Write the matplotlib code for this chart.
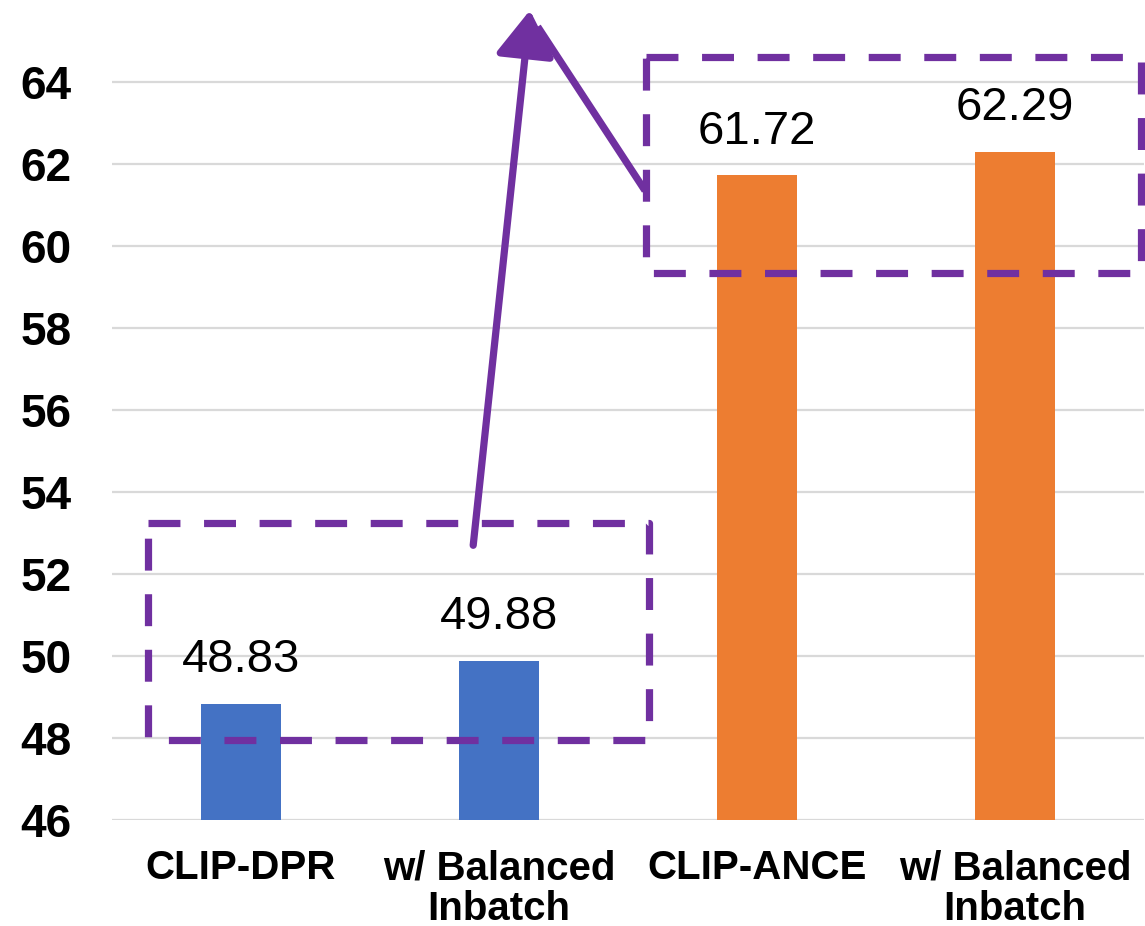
import matplotlib
matplotlib.use("Agg")
import matplotlib.pyplot as plt
from matplotlib.patches import FancyArrowPatch

# Recall scores for the four retrievers
methods = ["CLIP-DPR", "w/ Balanced\nInbatch", "CLIP-ANCE", "w/ Balanced\nInbatch"]
scores = [48.83, 49.88, 61.72, 62.29]
bar_colors = ["#4472C4", "#4472C4", "#ED7D31", "#ED7D31"]
y_ticks = [46, 48, 50, 52, 54, 56, 58, 60, 62, 64]

purple = "#7030A0"
plt.rcParams["lines.scale_dashes"] = False

fig = plt.figure(figsize=(11.45, 9.26), dpi=100)
ax = fig.add_axes([112 / 1145, 1 - 820 / 926, 1032 / 1145, 820 / 926])

x = range(len(methods))
bars = ax.bar(x, scores, width=0.31, color=bar_colors, zorder=2)

ax.set_xlim(-0.5, 3.5)
ax.set_ylim(46, 66)
ax.set_yticks(y_ticks)
ax.grid(axis="y", color="#d9d9d9", linewidth=1.6, zorder=0)
ax.set_axisbelow(True)
for s in ax.spines.values():
    s.set_visible(False)
ax.tick_params(length=0)
ax.tick_params(axis="y", pad=29)
ax.tick_params(axis="x", pad=21)

ax.set_yticklabels([str(t) for t in y_ticks], fontsize=33, fontweight="bold",
                   family=["Liberation Sans", "DejaVu Sans"])
ax.set_xticks(list(x))
ax.set_xticklabels(methods, fontsize=29, fontweight="bold", linespacing=1.08,
                   family=["Liberation Sans", "DejaVu Sans"])

# value labels above each bar
for b, val in zip(bars, scores):
    ax.annotate(f"{val:.2f}", (b.get_x() + b.get_width() / 2, val),
                xytext=(0, 23), textcoords="offset points",
                ha="center", va="baseline", fontsize=34,
                family=["Liberation Sans", "DejaVu Sans"])

# dashed boxes around each pair
def dashed_box(x0, x1, y0, y1):
    ax.plot([x0, x1, x1, x0, x0], [y1, y1, y0, y0, y1], color=purple,
            linewidth=5.2, dashes=(23, 17), solid_capstyle="butt",
            clip_on=False, zorder=3)

dashed_box(-0.36, 1.58, 47.95, 53.25)
dashed_box(1.57, 3.49, 59.35, 64.6)

# bent arrow linking the two boxes
ax.add_patch(FancyArrowPatch((0.90, 52.7), (1.12, 65.75),
                             arrowstyle="-|>,head_length=1.4,head_width=0.9",
                             mutation_scale=20, color=purple, linewidth=5.2,
                             shrinkA=0, shrinkB=0, clip_on=False, zorder=4))
ax.plot([1.15, 1.566], [65.35, 61.35], color=purple, linewidth=5.2,
        solid_capstyle="butt", clip_on=False, zorder=4)

fig.savefig("out.png", dpi=100)
